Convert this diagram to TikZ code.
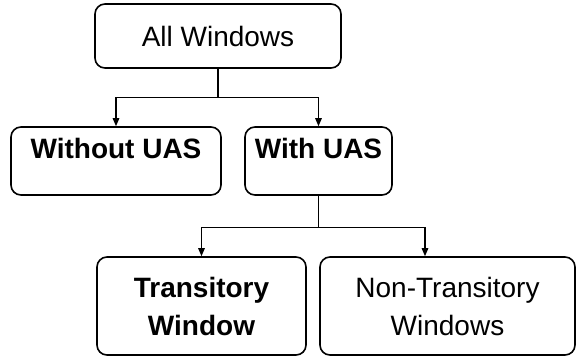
\documentclass[tikz,border=0pt]{standalone}
\usepackage{fontspec}
\setmainfont{Liberation Sans}
\usetikzlibrary{arrows.meta,positioning,calc}
\tikzset{
  winbox/.style={draw=black,fill=white,line width=1.6pt,rounded corners=10pt,
                 inner sep=0pt,align=center,font=\fontsize{28}{38}\selectfont},
  topbox/.style={winbox,text height=31pt,text depth=37pt},
  flowarr/.style={-{Triangle[length=8pt,width=6.5pt]},line width=1.3pt}
}
\begin{document}
\begin{tikzpicture}[x=1pt,y=-1pt]
  \useasboundingbox (0,0) rectangle (576,360);
  \node[winbox,minimum width=246pt,minimum height=64pt] (all) at (218,36) {All Windows};
  \node[topbox,minimum width=210pt,font=\fontsize{28}{38}\selectfont\bfseries] (without) at (116,161) {Without UAS};
  \node[topbox,minimum width=147pt,font=\fontsize{28}{38}\selectfont\bfseries] (with) at (318.5,161) {With UAS};
  \node[winbox,minimum width=209pt,minimum height=98pt,font=\fontsize{28}{38}\selectfont\bfseries] (trans) at (201.5,306) {Transitory\\Window};
  \node[winbox,minimum width=255pt,minimum height=98pt] (non) at (447.5,306) {Non-Transitory\\Windows};

  \coordinate (nontip) at ([xshift=-22.5pt]non.north);
  \draw[flowarr] (all.south) -- ++(0,29) -| (without.north);
  \draw[flowarr] (all.south) -- ++(0,29) -| (with.north);
  \draw[flowarr] (with.south) -- ++(0,32) -| (trans.north);
  \draw[flowarr] (with.south) -- ++(0,32) -| (nontip);
\end{tikzpicture}
\end{document}
